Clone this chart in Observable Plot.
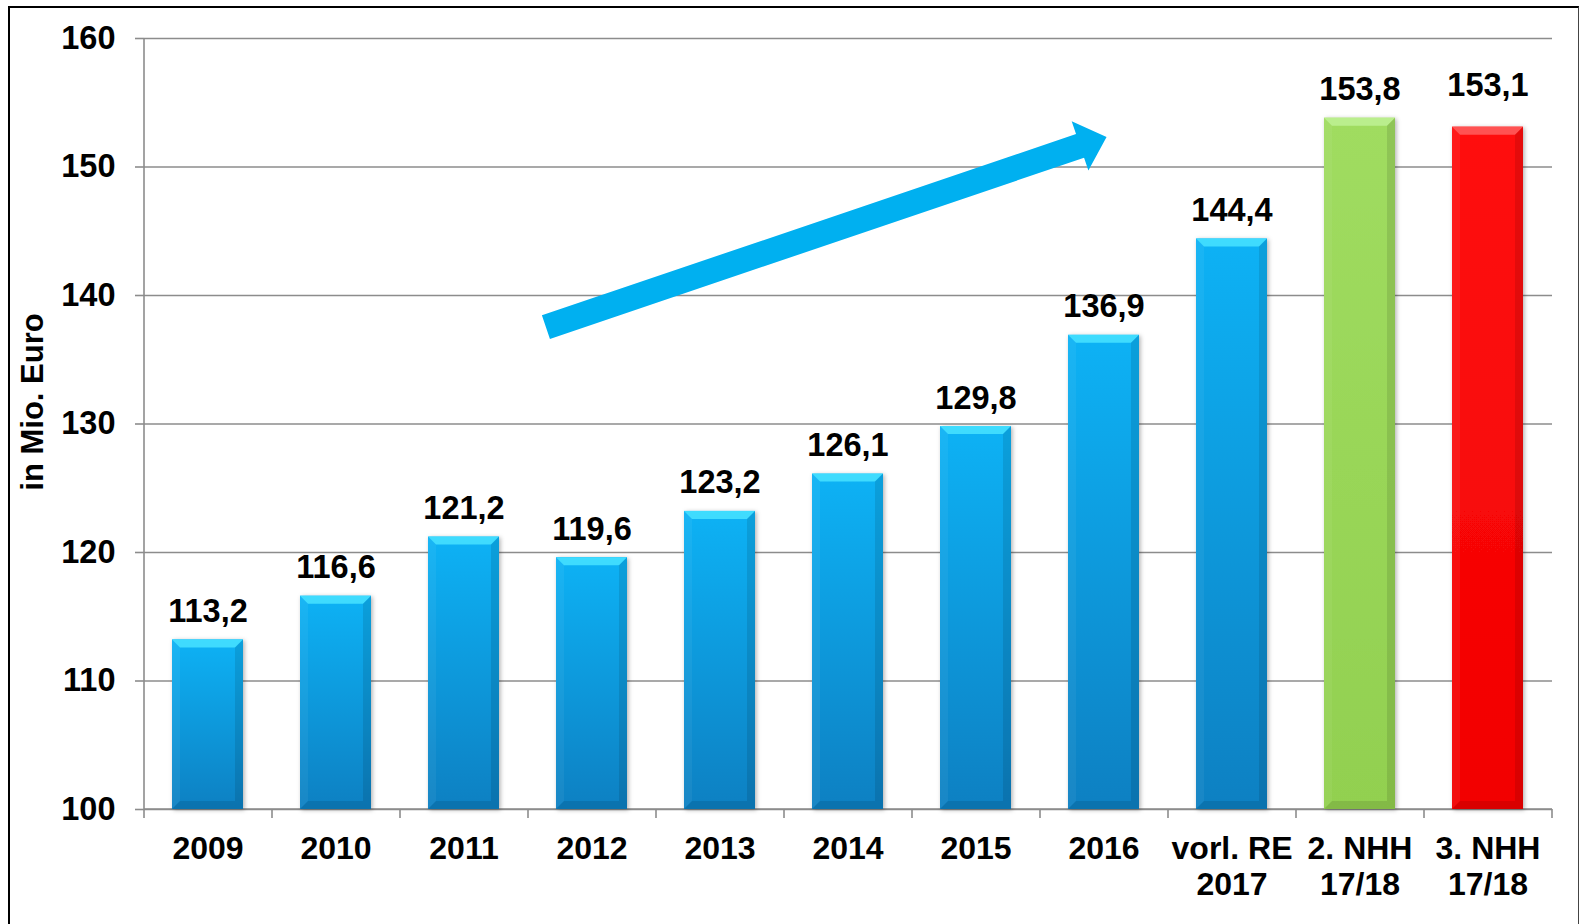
<!DOCTYPE html>
<html><head><meta charset="utf-8">
<script src="https://cdn.jsdelivr.net/npm/d3@7"></script>
<script src="https://cdn.jsdelivr.net/npm/@observablehq/plot@0.6"></script>
<style>
html,body{margin:0;padding:0;background:#fff;}
#chart{position:relative;width:1581px;height:924px;overflow:hidden;}
#chart svg{position:absolute;left:0;top:0;}
#frame{position:absolute;left:8px;top:6px;width:1571px;height:960px;border:2.5px solid #000;border-right:1.5px solid #444;box-sizing:border-box;pointer-events:none;}
</style></head><body>
<div id="chart"><div id="frame"></div></div>
<script>
// ---- data ----
const categories = ["2009","2010","2011","2012","2013","2014","2015","2016","vorl. RE\n2017","2. NHH\n17/18","3. NHH\n17/18"];
const values = [113.2,116.6,121.2,119.6,123.2,126.1,129.8,136.9,144.4,153.8,153.1];
const kinds = ["ist","ist","ist","ist","ist","ist","ist","ist","ist","nhh2","nhh3"];
const yTicks = [100,110,120,130,140,150,160];
const yLabel = "in Mio. Euro";
// trend arrow endpoints: pos in category steps (0 = first category centre), value on y axis
const trendStart = {pos: 2.64, value: 137.5};
const trendEnd = {pos: 7.02, value: 152.3};

const data = categories.map((c, i) => ({cat: c, value: values[i], kind: kinds[i]}));
const fmt = v => v.toFixed(1).replace(".", ",");

const kindDomain = ["ist","nhh2","nhh3"];
const bevelTop = {ist: "#45e0ff", nhh2: "#bdef92", nhh3: "#ff5a5a"};
const grid = "#8c8c8c";

function decorations(index, scales, vals, dim) {
  const {marginLeft: ml, marginRight: mr, width} = dim;
  const g = d3.create("svg:g").attr("stroke", grid).attr("stroke-width", 1.6).attr("fill", "none");
  const y0 = scales.y(yTicks[0]), yTop = scales.y(yTicks[yTicks.length - 1]);
  g.append("line").attr("x1", ml).attr("x2", ml).attr("y1", yTop).attr("y2", y0);
  g.append("line").attr("x1", ml).attr("x2", width - mr).attr("y1", y0).attr("y2", y0);
  const step = (width - ml - mr) / categories.length;
  for (let i = 0; i <= categories.length; i++) {
    const x = ml + i * step;
    g.append("line").attr("x1", x).attr("x2", x).attr("y1", y0).attr("y2", y0 + 9);
  }
  return g.node();
}

function bevels(index, scales, vals, dim) {
  const g = d3.create("svg:g");
  const bw = scales.x.bandwidth();
  const yB = scales.y(yTicks[0]);
  const b = 8;
  for (const d of data) {
    const x0 = scales.x(d.cat), x1 = x0 + bw, yT = scales.y(d.value);
    g.append("polygon").attr("points", [[x0,yT],[x1,yT],[x1-b,yT+b],[x0+b,yT+b]].join(" "))
      .attr("fill", bevelTop[d.kind]).attr("fill-opacity", 0.9);
    g.append("polygon").attr("points", [[x0,yT],[x0+b,yT+b],[x0+b,yB-b],[x0,yB]].join(" "))
      .attr("fill", "#fff").attr("fill-opacity", 0.05);
    g.append("polygon").attr("points", [[x1,yT],[x1-b,yT+b],[x1-b,yB-b],[x1,yB]].join(" "))
      .attr("fill", "#000").attr("fill-opacity", 0.1);
    g.append("polygon").attr("points", [[x0,yB],[x0+b,yB-b],[x1-b,yB-b],[x1,yB]].join(" "))
      .attr("fill", "#000").attr("fill-opacity", 0.1);
  }
  return g.node();
}

function trendArrow(index, scales, vals, dim) {
  const {marginLeft: ml, marginRight: mr, width} = dim;
  const step = (width - ml - mr) / categories.length;
  const px = p => ml + step * (p + 0.5);
  const ax = px(trendStart.pos), ay = scales.y(trendStart.value);
  const bx = px(trendEnd.pos), by = scales.y(trendEnd.value);
  const L = Math.hypot(bx - ax, by - ay);
  const ux = (bx - ax) / L, uy = (by - ay) / L;
  const nx = -uy, ny = ux;
  const sw = 12.5, hw = 26, hl = 28;
  const hx = bx - ux * hl, hy = by - uy * hl;
  const pts = [
    [ax + nx*sw, ay + ny*sw], [hx + nx*sw, hy + ny*sw], [hx + nx*hw, hy + ny*hw],
    [bx, by],
    [hx - nx*hw, hy - ny*hw], [hx - nx*sw, hy - ny*sw], [ax - nx*sw, ay - ny*sw]
  ];
  return d3.create("svg:polygon").attr("points", pts.map(p => p.join(",")).join(" ")).attr("fill", "#00b0f0").node();
}

const chart = Plot.plot({
  width: 1581,
  height: 924,
  marginLeft: 144,
  marginRight: 29,
  marginTop: 38,
  marginBottom: 115,
  style: {fontFamily: "'Liberation Sans', Arial, sans-serif", color: "#000", background: "transparent"},
  x: {domain: categories, paddingInner: 0.445, paddingOuter: 0.2225, align: 0.5},
  y: {domain: [yTicks[0], yTicks[yTicks.length - 1]]},
  color: {domain: kindDomain, range: ["url(#g-ist)", "url(#g-nhh2)", "url(#g-nhh3)"]},
  marks: [
    Plot.gridY(yTicks, {stroke: grid, strokeOpacity: 1, strokeWidth: 1.6}),
    Plot.axisY(yTicks, {tickSize: 9, tickPadding: 20, fontSize: 32.5, fontWeight: "bold", stroke: grid, strokeWidth: 1.6, label: null, tickFormat: d => String(d)}),
    Plot.axisX({tickSize: 0, tickPadding: 23, fontSize: 32, fontWeight: "bold", lineHeight: 1.15, label: null}),
    decorations,
    Plot.barY(data, {x: "cat", y1: yTicks[0], y2: "value", fill: "kind"}),
    bevels,
    Plot.text(data.filter(d => d.kind !== "nhh3"), {x: "cat", y: "value", text: d => fmt(d.value), lineAnchor: "bottom", dy: -18, fontSize: 32.5, fontWeight: "bold", fill: "#000"}),
    Plot.text(data.filter(d => d.kind === "nhh3"), {x: "cat", y: "value", text: d => fmt(d.value), lineAnchor: "bottom", dy: -31, fontSize: 32.5, fontWeight: "bold", fill: "#000"}),
    trendArrow,
    Plot.text([yLabel], {frameAnchor: "left", textAnchor: "middle", text: d => d, rotate: -90, dx: -111, dy: -22, fontSize: 31, fontWeight: "bold", fill: "#000"})
  ]
});

const svg = d3.select(chart);
const defs = svg.insert("defs", ":first-child");
const grads = {ist: ["#08b2f5", "#0a80c2"], nhh2: ["#a0dc60", "#92d050"], nhh3: ["#ff1010", "#f20000"]};
for (const [k, [c0, c1]] of Object.entries(grads)) {
  const lg = defs.append("linearGradient").attr("id", "g-" + k).attr("x1", 0).attr("y1", 0).attr("x2", 0).attr("y2", 1);
  lg.append("stop").attr("offset", "0%").attr("stop-color", c0);
  lg.append("stop").attr("offset", "100%").attr("stop-color", c1);
}
const f = defs.append("filter").attr("id", "shadow").attr("x", "-20%").attr("y", "-5%").attr("width", "140%").attr("height", "110%");
f.append("feDropShadow").attr("dx", 1.5).attr("dy", 1).attr("stdDeviation", 2).attr("flood-color", "#000").attr("flood-opacity", 0.3);
svg.selectAll('g[aria-label="bar"]').attr("filter", "url(#shadow)");

document.getElementById("chart").prepend(chart);
</script>
</body></html>
